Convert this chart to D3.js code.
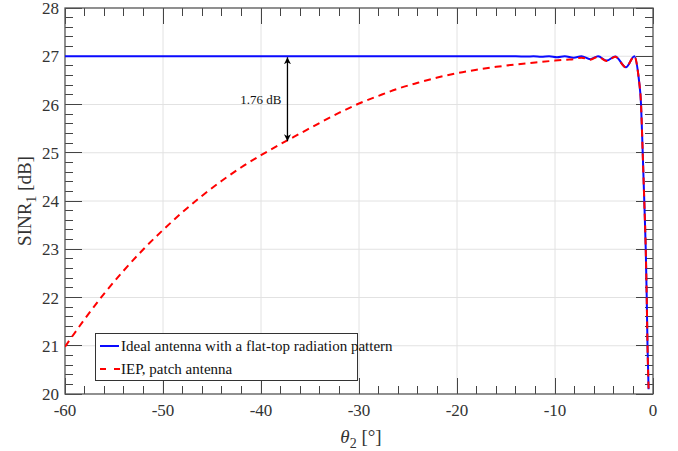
<!DOCTYPE html>
<html><head><meta charset="utf-8">
<script src="https://cdn.jsdelivr.net/npm/d3@7"></script>
<style>body{margin:0;background:#fff}svg{display:block}</style>
</head><body>
<script>
// ---- data ----
const xTicks = [-60,-50,-40,-30,-20,-10,0];
const yTicks = [20,21,22,23,24,25,26,27,28];
const idealTheta = [-60,-14,-12.9,-12.2,-11.4,-10.6,-9.8,-9.0,-8.1,-7.3,-6.4,-5.6,-4.73,-3.85,-2.76,-1.9,-1.5,-1.43,-1.22,-1.05,-0.89,-0.74,-0.64,-0.56,-0.45];
const idealSINR  = [27.0,27.0,26.993,27.0,26.99,27.0,26.98,27.0,26.97,27.0,26.94,27.0,26.91,26.995,26.77,27.0,26.62,26.5,26.0,25.0,24.0,23.0,22.0,21.0,20.1];
const iepTheta = [-60,-58,-56,-54,-52,-50,-48,-46,-44,-42,-40,-38,-36,-34,-32,-30,-28,-26,-24,-22,-20,-18,-16,-14,-12,-10,-8.8,-8.1,-7.3,-6.4,-5.6,-4.73,-3.85,-2.76,-1.9,-1.5,-1.43,-1.22,-1.05,-0.89,-0.74,-0.64,-0.56,-0.45];
const iepSINR  = [20.98,21.55,22.08,22.56,23.00,23.40,23.77,24.11,24.42,24.70,24.95,25.18,25.40,25.62,25.83,26.02,26.18,26.33,26.45,26.56,26.65,26.72,26.78,26.83,26.87,26.91,26.93,26.94,26.97,26.93,26.99,26.90,26.99,26.77,27.0,26.62,26.5,26.0,25.0,24.0,23.0,22.0,21.0,20.1];
const legendLabels = ["Ideal antenna with a flat-top radiation pattern","IEP, patch antenna"];
const annotTheta = -37.3, annotTop = 27.0, annotBottom = 25.24, annotText = "1.76 dB";

// ---- layout ----
const W=678,H=451, m={l:65,r:25,t:8,b:57};
const svg=d3.select("body").append("svg").attr("width",W).attr("height",H)
  .style("font-family","'Liberation Serif','Times New Roman',serif");
const x=d3.scaleLinear().domain([-60,0]).range([m.l,W-m.r]);
const y=d3.scaleLinear().domain([20,28]).range([H-m.b,m.t]);
const x0=m.l,x1=W-m.r,y0=H-m.b,y1=m.t;

// grid
const g=svg.append("g");
g.selectAll(".gx").data(xTicks.slice(1,-1)).join("line")
 .attr("x1",d=>x(d)).attr("x2",d=>x(d)).attr("y1",y0).attr("y2",y1).attr("stroke","#e2e2e2").attr("stroke-width",1);
g.selectAll(".gy").data(yTicks.slice(1,-1)).join("line")
 .attr("y1",d=>y(d)).attr("y2",d=>y(d)).attr("x1",x0).attr("x2",x1).attr("stroke","#e2e2e2").attr("stroke-width",1);

// ticks (inward, all four sides)
const tc="#444";
const xMinor=d3.range(-60,0.01,2), yMinor=d3.range(20,28.01,0.2);
const tickG=svg.append("g").attr("stroke",tc).attr("stroke-width",1).attr("shape-rendering","crispEdges");
function xt(vals,len){vals.forEach(v=>{
  tickG.append("line").attr("x1",x(v)).attr("x2",x(v)).attr("y1",y0).attr("y2",y0-len);
  tickG.append("line").attr("x1",x(v)).attr("x2",x(v)).attr("y1",y1).attr("y2",y1+len);});}
function yt(vals,len){vals.forEach(v=>{
  tickG.append("line").attr("y1",y(v)).attr("y2",y(v)).attr("x1",x0).attr("x2",x0+len);
  tickG.append("line").attr("y1",y(v)).attr("y2",y(v)).attr("x1",x1).attr("x2",x1-len);});}
xt(xMinor,8); xt(xTicks,16); yt(yMinor,8); yt(yTicks,17);

// frame
svg.append("rect").attr("x",x0).attr("y",y1).attr("width",x1-x0).attr("height",y0-y1)
 .attr("fill","none").attr("stroke","#555").attr("stroke-width",1.3);

// tick labels
svg.append("g").selectAll("text").data(xTicks).join("text")
 .attr("x",d=>x(d)).attr("y",y0+22).attr("text-anchor","middle").attr("font-size",17).attr("fill","#333").text(d=>d);
svg.append("g").selectAll("text").data(yTicks).join("text")
 .attr("x",x0-6).attr("y",d=>y(d)+6).attr("text-anchor","end").attr("font-size",17).attr("fill","#333").text(d=>d);

// axis titles
const yl=svg.append("text").attr("transform",`translate(31,${(y0+y1)/2}) rotate(-90)`).attr("text-anchor","middle")
 .attr("font-size",19).attr("fill","#333");
yl.append("tspan").text("SINR");
yl.append("tspan").attr("dy",5).attr("font-size",14).text("1");
yl.append("tspan").attr("dy",-5).text(" [dB]");
const xl=svg.append("text").attr("x",(x0+x1)/2+2).attr("y",H-8).attr("text-anchor","middle").attr("font-size",19).attr("fill","#333");
xl.append("tspan").attr("font-style","italic").text("θ");
xl.append("tspan").attr("dy",5).attr("font-size",14).text("2");
xl.append("tspan").attr("dy",-5).text(" [°]");

// lines
const clip=svg.append("clipPath").attr("id","c").append("rect").attr("x",x0).attr("y",y1).attr("width",x1-x0).attr("height",y0-y1);
const line=d3.line().x(d=>x(d[0])).y(d=>y(d[1])).curve(d3.curveMonotoneX);
svg.append("path").datum(d3.zip(idealTheta,idealSINR)).attr("d",line)
 .attr("fill","none").attr("stroke","#0a0aff").attr("stroke-width",2).attr("clip-path","url(#c)");
svg.append("path").datum(d3.zip(iepTheta,iepSINR)).attr("d",line)
 .attr("fill","none").attr("stroke","#ff0000").attr("stroke-width",2).attr("stroke-dasharray","7,5").attr("clip-path","url(#c)");

// annotation
const defs=svg.append("defs");
defs.append("marker").attr("id","ah").attr("viewBox","0 0 10 10").attr("refX",10).attr("refY",5)
 .attr("markerWidth",7).attr("markerHeight",9).attr("markerUnits","userSpaceOnUse").attr("orient","auto-start-reverse")
 .append("path").attr("d","M0,0 L10,5 L0,10 L3,5 Z").attr("fill","#000");
svg.append("line").attr("x1",x(annotTheta)).attr("x2",x(annotTheta)).attr("y1",y(annotTop)+1).attr("y2",y(annotBottom))
 .attr("stroke","#000").attr("stroke-width",1.3).attr("marker-start","url(#ah)").attr("marker-end","url(#ah)");
svg.append("text").attr("x",x(annotTheta)-6).attr("y",(y(annotTop)+y(annotBottom))/2+5).attr("text-anchor","end")
 .attr("font-size",13).attr("fill","#111").text(annotText);

// legend
const lg=svg.append("g");
lg.append("rect").attr("x",95.5).attr("y",333.5).attr("width",262).attr("height",47).attr("fill","#fff").attr("stroke","#333").attr("stroke-width",1);
lg.append("line").attr("x1",100).attr("x2",119).attr("y1",346).attr("y2",346).attr("stroke","#0a0aff").attr("stroke-width",2);
lg.append("line").attr("x1",100).attr("x2",120).attr("y1",369).attr("y2",369).attr("stroke","#ff0000").attr("stroke-width",2).attr("stroke-dasharray","6,8");
lg.selectAll("text").data(legendLabels).join("text").attr("x",121).attr("y",(d,i)=>351+i*23)
 .attr("font-size",15).attr("fill","#111").text(d=>d);
</script>
</body></html>
